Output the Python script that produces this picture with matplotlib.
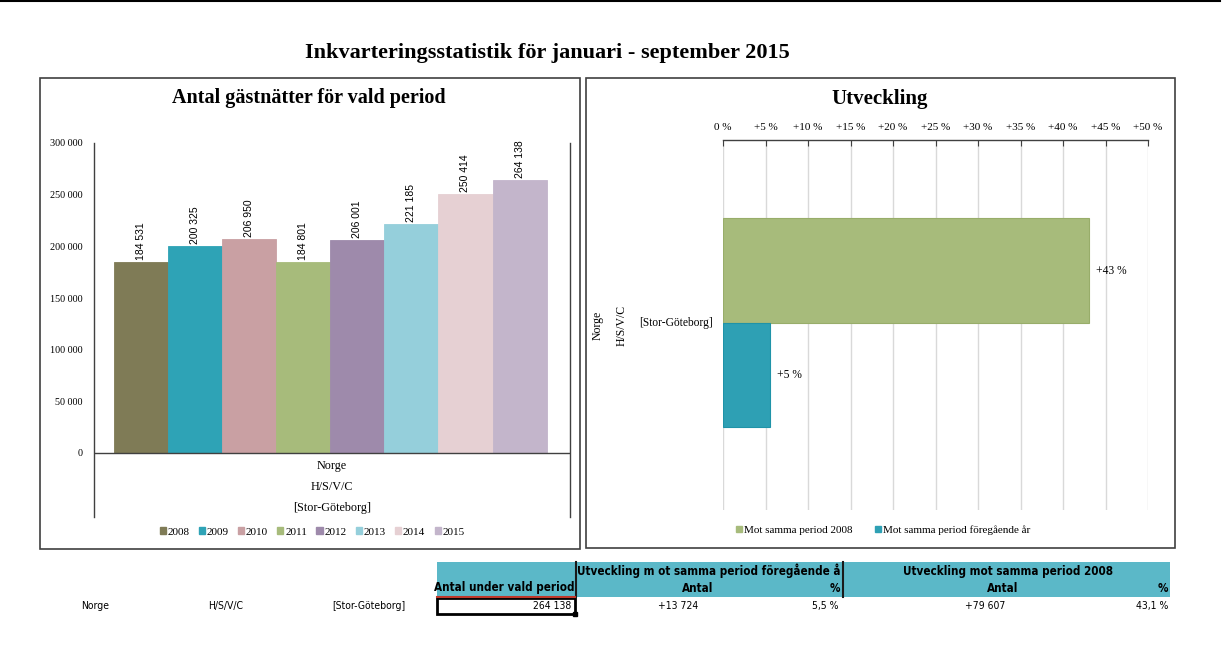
import matplotlib
matplotlib.use("Agg")
import matplotlib.pyplot as plt
from matplotlib.patches import Rectangle
from matplotlib.lines import Line2D

# ---------------- data ----------------
years = ["2008", "2009", "2010", "2011", "2012", "2013", "2014", "2015"]
guest_nights = [184531, 200325, 206950, 184801, 206001, 221185, 250414, 264138]
bar_labels = ["184 531", "200 325", "206 950", "184 801", "206 001", "221 185", "250 414", "264 138"]
year_colors = ["#7f7b56", "#2ea3b6", "#c9a0a3", "#a7bb7b", "#9e8aab", "#95cfdb", "#e6d0d3", "#c3b5cb"]

y_ticks = [0, 50000, 100000, 150000, 200000, 250000, 300000]
y_ticklabels = ["0", "50 000", "100 000", "150 000", "200 000", "250 000", "300 000"]
category_lines = ["Norge", "H/S/V/C", "[Stor-Göteborg]"]

dev_series = ["Mot samma period 2008", "Mot samma period föregående år"]
dev_values = [43.1, 5.5]
dev_labels = ["+43 %", "+5 %"]
dev_colors = ["#a7bb7b", "#2ea0b4"]
dev_edges = ["#98ad6a", "#1f93a8"]
x_ticks = [0, 5, 10, 15, 20, 25, 30, 35, 40, 45, 50]
x_ticklabels = ["0 %"] + ["+%d %%" % t for t in x_ticks[1:]]

table_row = ["Norge", "H/S/V/C", "[Stor-Göteborg]"]
table_total = "264 138"
table_prev_antal = "+13 724"
table_prev_pct = "5,5 %"
table_2008_antal = "+79 607"
table_2008_pct = "43,1 %"

# ---------------- layout helpers ----------------
W, H = 1224, 653
fig = plt.figure(figsize=(W / 100, H / 100), dpi=100)
fig.patch.set_facecolor("white")

def fx(x):
    return x / W

def fy(y):
    return 1 - y / H

def axrect(x0, y0, x1, y1):
    return [fx(x0), fy(y1), fx(x1) - fx(x0), fy(y0) - fy(y1)]

SERIF = ["Liberation Serif", "DejaVu Serif"]
SANS = ["Liberation Sans", "DejaVu Sans"]

# top line
fig.add_artist(Line2D([fx(0), fx(1220)], [fy(1), fy(1)], color="black", lw=1.5))

# main title
fig.text(fx(547), fy(53), "Inkvarteringsstatistik för januari - september 2015",
         ha="center", va="center", fontsize=16, fontweight="bold", family=SERIF)

# chart boxes
for (x0, y0, x1, y1) in [(40, 78, 580, 549), (586, 78, 1175, 548)]:
    fig.add_artist(Rectangle((fx(x0), fy(y1)), fx(x1) - fx(x0), fy(y0) - fy(y1),
                             fill=False, edgecolor="#404040", lw=1.2))

# ---------------- left chart ----------------
fig.text(fx(309), fy(98), "Antal gästnätter för vald period", ha="center", va="center",
         fontsize=14.5, fontweight="bold", family=SERIF)

ax1 = fig.add_axes(axrect(94, 143, 570, 517))
ymin = -(517 - 453) / 310 * 300000
ax1.set_ylim(ymin, 300000)
ax1.set_xlim(0, 1)
n = len(years)
bw = 0.91 / n
start = 0.5 - 0.91 / 2 - 0.004
xs = [start + bw * (i + 0.5) for i in range(n)]
ax1.bar(xs, guest_nights, width=bw, color=year_colors, edgecolor=year_colors, linewidth=0.6)
for x, v, lab in zip(xs, guest_nights, bar_labels):
    ax1.annotate(lab, (x, v), xytext=(0, 1.5), textcoords="offset points", rotation=90,
                 ha="center", va="bottom", fontsize=7.5, family=SANS)
ax1.set_yticks(y_ticks)
ax1.set_yticklabels(y_ticklabels, family=SERIF, fontsize=7.3)
ax1.tick_params(axis="y", length=0, pad=8)
ax1.set_xticks([])
for s in ["top", "bottom"]:
    ax1.spines[s].set_visible(False)
for s in ["left", "right"]:
    ax1.spines[s].set_color("#404040")
    ax1.spines[s].set_linewidth(1)
ax1.axhline(0, color="#404040", lw=1)
ax1.patch.set_alpha(0)
for txt, yy in zip(category_lines, [466, 487, 508]):
    fig.text(fx(332), fy(yy), txt, ha="center", va="center", fontsize=8.7, family=SERIF)

fig.legend(handles=[Rectangle((0, 0), 1, 1, color=c) for c in year_colors], labels=years,
           loc="center", bbox_to_anchor=(fx(312), fy(532)), ncol=8, frameon=False,
           handlelength=0.55, handleheight=0.55, handletextpad=0.15, columnspacing=0.85,
           prop={"family": SERIF, "size": 8})

# ---------------- right chart ----------------
fig.text(fx(880), fy(99), "Utveckling", ha="center", va="center",
         fontsize=15, fontweight="bold", family=SERIF)

ax2 = fig.add_axes(axrect(723, 140, 1148, 510))
ax2.set_xlim(0, 50)
ax2.set_ylim(-1.79, 1.75)
ypos = [0.5, -0.5]
for y, v, c, e in zip(ypos, dev_values, dev_colors, dev_edges):
    ax2.barh(y, v, height=1.0, color=c, edgecolor=e, linewidth=0.8, zorder=3)
for y, v, lab in zip(ypos, dev_values, dev_labels):
    ax2.annotate(lab, (v, y), xytext=(5, 0), textcoords="offset points",
                 ha="left", va="center", fontsize=8.3, family=SERIF)
ax2.xaxis.tick_top()
ax2.set_xticks(x_ticks)
ax2.set_xticklabels(x_ticklabels, family=SERIF, fontsize=8)
ax2.tick_params(axis="x", direction="in", length=4, color="#404040", pad=6)
ax2.set_yticks([])
ax2.grid(axis="x", color="#d9d9d9", lw=1, zorder=0)
ax2.set_axisbelow(True)
for s in ["left", "right", "bottom"]:
    ax2.spines[s].set_visible(False)
ax2.spines["top"].set_color("#404040")
ax2.spines["top"].set_linewidth(1)
ax2.patch.set_alpha(0)

fig.text(fx(598), fy(325), category_lines[0], rotation=90, ha="center", va="center",
         fontsize=8.5, family=SERIF)
fig.text(fx(622), fy(325), category_lines[1], rotation=90, ha="center", va="center",
         fontsize=8.5, family=SERIF)
fig.text(fx(676), fy(323), category_lines[2], ha="center", va="center",
         fontsize=8.3, family=SERIF)

fig.legend(handles=[Rectangle((0, 0), 1, 1, color=c) for c in dev_colors], labels=dev_series,
           loc="center", bbox_to_anchor=(fx(883), fy(530)), ncol=2, frameon=False,
           handlelength=0.55, handleheight=0.55, handletextpad=0.15, columnspacing=2.0,
           prop={"family": SERIF, "size": 8})

# ---------------- table ----------------
teal = "#5bb8c8"
fig.add_artist(Rectangle((fx(437), fy(597)), fx(1170) - fx(437), fy(562) - fy(597),
                         facecolor=teal, edgecolor="none"))
for xd in [576, 843]:
    fig.add_artist(Line2D([fx(xd), fx(xd)], [fy(562), fy(597)], color="#1a1a1a", lw=1.5))
fig.add_artist(Line2D([fx(437), fx(575)], [fy(597), fy(597)], color="#c0392b", lw=1.5))
fig.add_artist(Rectangle((fx(437), fy(614)), fx(575) - fx(437), fy(598) - fy(614),
                         fill=False, edgecolor="black", lw=2))
fig.add_artist(Rectangle((fx(573), fy(616)), fx(4), fy(0) - fy(4), color="black"))

COND = ["DejaVu Sans"]
hdr = dict(fontsize=8.4, fontweight="bold", family=COND, fontstretch="condensed", va="center")
fig.text(fx(577), fy(571), "Utveckling m ot samma period föregående å", ha="left", **hdr)
fig.text(fx(1008), fy(571), "Utveckling mot samma period 2008", ha="center", **hdr)
fig.text(fx(574), fy(588), "Antal under vald period", ha="right", **hdr)
fig.text(fx(698), fy(588), "Antal", ha="center", **hdr)
fig.text(fx(840), fy(588), "%", ha="right", **hdr)
fig.text(fx(1003), fy(588), "Antal", ha="center", **hdr)
fig.text(fx(1168), fy(588), "%", ha="right", **hdr)

cell = dict(fontsize=7.5, family=COND, fontstretch="condensed", va="center")
fig.text(fx(95), fy(606), table_row[0], ha="center", **cell)
fig.text(fx(226), fy(606), table_row[1], ha="center", **cell)
fig.text(fx(369), fy(606), table_row[2], ha="center", **cell)
fig.text(fx(571), fy(606), table_total, ha="right", **cell)
fig.text(fx(698), fy(606), table_prev_antal, ha="right", **cell)
fig.text(fx(838), fy(606), table_prev_pct, ha="right", **cell)
fig.text(fx(1005), fy(606), table_2008_antal, ha="right", **cell)
fig.text(fx(1168), fy(606), table_2008_pct, ha="right", **cell)

fig.savefig("out.png", dpi=100, facecolor="white")
